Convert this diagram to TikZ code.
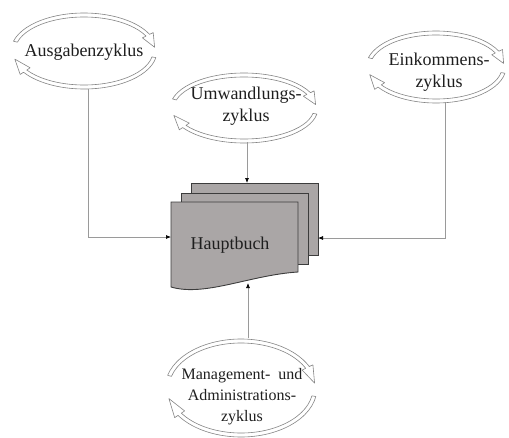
\documentclass[tikz,border=0pt]{standalone}
\usepackage{fontspec}
\setmainfont{Liberation Serif}
\usetikzlibrary{arrows.meta}
\definecolor{ringc}{HTML}{858585}
\definecolor{linec}{HTML}{9A9A9A}
\definecolor{docfill}{HTML}{AAA6A6}
\definecolor{docline}{HTML}{3C3C3C}
\definecolor{txt}{HTML}{1E1E1E}
\newcommand\cycring[4]{% cx, cy (pixels, downwards), rx, ry
\begin{scope}[shift={(#1,-#2)}]
\draw[ring] ({(#3+2)*cos(165)},{(#4+2)*sin(165)})
  arc[start angle=165,end angle=26,x radius=#3+2,y radius=#4+2]
  -- ({(#3+6)*cos(26)},{(#4+6)*sin(26)})
  -- ({#3*cos(6)},{#4*sin(6)})
  -- ({(#3-6)*cos(26)},{(#4-6)*sin(26)})
  -- ({(#3-2)*cos(26)},{(#4-2)*sin(26)})
  arc[start angle=26,end angle=165,x radius=#3-2,y radius=#4-2]
  -- cycle;
\draw[ring] ({(#3+2)*cos(-10)},{(#4+2)*sin(-10)})
  arc[start angle=-10,end angle=-146,x radius=#3+2,y radius=#4+2]
  -- ({(#3+6)*cos(-146)},{(#4+6)*sin(-146)})
  -- ({#3*cos(-167)},{#4*sin(-167)})
  -- ({(#3-6)*cos(-146)},{(#4-6)*sin(-146)})
  -- ({(#3-2)*cos(-146)},{(#4-2)*sin(-146)})
  arc[start angle=-146,end angle=-10,x radius=#3-2,y radius=#4-2]
  -- cycle;
\end{scope}}
\begin{document}
\begin{tikzpicture}[x=1pt,y=1pt,
  ring/.style={draw=ringc,fill=white,line width=0.6pt,line join=round},
  conn/.style={draw=linec,line width=0.7pt,-{Latex[length=5pt,width=4pt,color=black]}},
  page/.style={draw=docline,fill=docfill,line width=0.9pt},
  lbl/.style={text=txt,align=center,font=\fontsize{18}{22}\selectfont,inner sep=0pt},
  lbls/.style={text=txt,align=center,font=\fontsize{16}{21}\selectfont,inner sep=0pt}]
\useasboundingbox (0,0) rectangle (509,-437);
% rings
\cycring{84}{51}{71}{36}
\cycring{244}{108}{72}{33}
\cycring{436}{67}{68}{34}
\cycring{241}{388}{74}{47}
% labels
\node[lbl] (aus) at (84,-52) {Ausgabenzyklus};
\node[lbl] (umw) at (246,-106) {Umwandlungs-\\zyklus};
\node[lbl] (ein) at (439,-72) {Einkommens-\\zyklus};
\node[lbls] (man) at (242,-397) {Management-\ \ und\\Administrations-\\zyklus};
% document stack
\draw[page] (191,-183) rectangle (318,-255);
\draw[page] (181,-193) rectangle (308,-264);
\draw[page] (171,-202) -- (298,-202) -- (298,-272)
  .. controls (250,-275) and (205,-297) .. (171,-287) -- cycle;
\node[lbl] (hb) at (230,-245) {Hauptbuch};
% connector ends
\coordinate (ausB) at (88,-89);
\coordinate (umwB) at (247,-142);
\coordinate (einB) at (445,-102);
\coordinate (manT) at (248,-338);
\coordinate (hbL) at (171,-237);
\coordinate (hbR) at (318,-238);
\coordinate (hbT) at (247,-183);
\coordinate (hbB) at (248,-283);
\draw[conn] (ausB) |- (hbL);
\draw[conn] (einB) |- (hbR);
\draw[conn] (umwB) -- (hbT);
\draw[conn] (manT) -- (hbB);
\end{tikzpicture}
\end{document}
